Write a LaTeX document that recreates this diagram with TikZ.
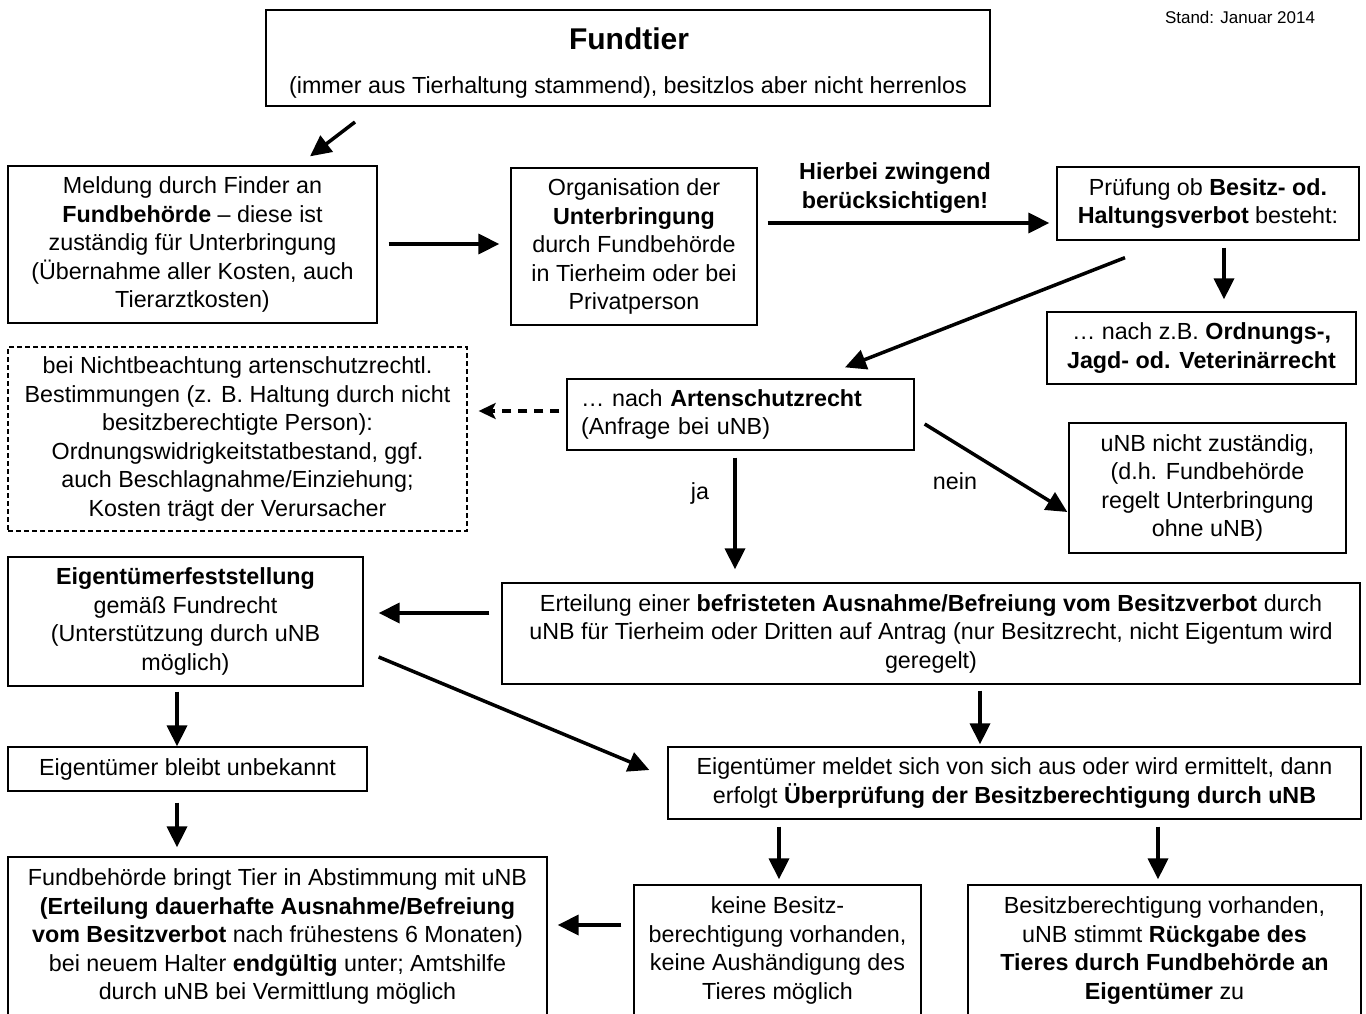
\documentclass[tikz,border=0pt]{standalone}
\usepackage{fontspec}
\setmainfont{Liberation Sans}
\usetikzlibrary{arrows.meta}
\newcommand\fsz{\fontsize{23.3}{28.5}\selectfont}
\begin{document}
\begin{tikzpicture}[x=1pt,y=-1pt,
  box/.style={draw, line width=1.3pt, align=center, inner sep=0pt, font=\fsz},
  dbox/.style={box, dash pattern=on 5pt off 3pt},
  txt/.style={align=center, inner sep=0pt, font=\fsz},
  arr/.style={line width=3.5pt, -{Triangle[length=21pt,width=20pt]}},
  darr/.style={line width=3.5pt, -{Stealth[length=17pt,width=16pt,inset=4pt]}, dash pattern=on 9pt off 7pt},
]
\useasboundingbox (0,0) rectangle (1366,1014);
\clip (0,0) rectangle (1366,1014);
\fill[white] (0,0) rectangle (1366,1014);

% top
\node[box, minimum width=724pt, minimum height=96pt] (fund) at (628,58) {};
\node[txt, font=\fontsize{30}{36}\selectfont\bfseries] (fundT) at (629,39) {Fundtier};
\node[txt] (fundS) at (628,87) {(immer aus Tierhaltung stammend), besitzlos aber nicht herrenlos};
\node[txt, font=\fontsize{17}{20}\selectfont] (stand) at (1240,17) {Stand: Januar 2014};

\node[box, minimum width=369pt, minimum height=157pt] (meld) at (192.5,244.5)
 {Meldung durch Finder an\\\textbf{Fundbehörde} – diese ist\\zuständig für Unterbringung\\(Übernahme aller Kosten, auch\\Tierarztkosten)};
\node[box, minimum width=246pt, minimum height=157pt] (org) at (634,246.5)
 {Organisation der\\\textbf{Unterbringung}\\durch Fundbehörde\\in Tierheim oder bei\\Privatperson};
\node[txt, font=\fsz\bfseries] (hier) at (895,188) {Hierbei zwingend\\berücksichtigen!};
\node[box, minimum width=302pt, minimum height=73pt] (pruef) at (1208,203.5)
 {Prüfung ob \textbf{Besitz- od.}\\\textbf{Haltungsverbot} besteht:};
\node[box, minimum width=309pt, minimum height=72pt] (nachz) at (1201.5,348)
 {… nach z.B. \textbf{Ordnungs-,}\\\textbf{Jagd- od. Veterinärrecht}};
\node[box, align=left, text width=319pt, minimum width=347pt, minimum height=71pt] (arten) at (740.5,414.5)
 {… nach \textbf{Artenschutzrecht}\\(Anfrage bei uNB)};
\node[dbox, minimum width=459pt, minimum height=184pt] (dash) at (237.5,439)
 {bei Nichtbeachtung artenschutzrechtl.\\Bestimmungen (z. B. Haltung durch nicht\\besitzberechtigte Person):\\Ordnungswidrigkeitstatbestand, ggf.\\auch Beschlagnahme/Einziehung;\\Kosten trägt der Verursacher};
\node[box, minimum width=277pt, minimum height=130pt] (unb) at (1207.5,488)
 {uNB nicht zuständig,\\(d.h. Fundbehörde\\regelt Unterbringung\\ohne uNB)};
\node[txt] (ja) at (700,493) {ja};
\node[txt] (nein) at (955,481) {nein};
\node[box, minimum width=858pt, minimum height=101pt] (ert) at (931,633.5)
 {Erteilung einer \textbf{befristeten Ausnahme/Befreiung vom Besitzverbot} durch\\uNB für Tierheim oder Dritten auf Antrag (nur Besitzrecht, nicht Eigentum wird\\geregelt)};
\node[box, minimum width=355pt, minimum height=129pt] (eigf) at (185.5,621.5)
 {\textbf{Eigentümerfeststellung}\\gemäß Fundrecht\\(Unterstützung durch uNB\\möglich)};
\node[box, minimum width=359pt, minimum height=44pt] (unbek) at (187.5,769)
 {Eigentümer bleibt unbekannt};
\node[box, minimum width=693pt, minimum height=72pt] (meldet) at (1014.5,783)
 {Eigentümer meldet sich von sich aus oder wird ermittelt, dann\\erfolgt \textbf{Überprüfung der Besitzberechtigung durch uNB}};
\node[box, minimum width=539pt, minimum height=159pt] (fbr) at (277.5,936.5)
 {Fundbehörde bringt Tier in Abstimmung mit uNB\\\textbf{(Erteilung dauerhafte Ausnahme/Befreiung}\\\textbf{vom Besitzverbot} nach frühestens 6 Monaten)\\bei neuem Halter \textbf{endgültig} unter; Amtshilfe\\durch uNB bei Vermittlung möglich};
\node[box, minimum width=287pt, minimum height=131pt] (keine) at (777.5,950.5)
 {keine Besitz-\\berechtigung vorhanden,\\keine Aushändigung des\\Tieres möglich};
\node[box, minimum width=393pt, minimum height=131pt] (besitz) at (1164.5,950.5)
 {Besitzberechtigung vorhanden,\\uNB stimmt \textbf{Rückgabe des}\\\textbf{Tieres durch Fundbehörde an}\\\textbf{Eigentümer} zu};

% connectors
\coordinate (s0) at (355,122);
\draw[arr] (s0) -- ([xshift=117.5pt,yshift=9pt]meld.north);
\draw[arr, shorten <=11pt, shorten >=11pt] ([yshift=0.5pt]meld.east) -- ([yshift=2.5pt]org.west);
\draw[arr, shorten <=10pt, shorten >=7pt] ([yshift=23.5pt]org.east) -- ([yshift=-19.5pt]pruef.west);
\draw[arr, shorten <=7pt, shorten >=12pt] ([xshift=16pt]pruef.south) -- ([xshift=22.5pt]nachz.north);
\draw[arr] ([xshift=-83pt,yshift=-17pt]pruef.south) -- ([xshift=104.5pt,yshift=11pt]arten.north);
\draw[darr, shorten <=7pt, shorten >=11pt] ([yshift=3.5pt]arten.west) -- ([yshift=28pt]dash.east);
\draw[arr, shorten <=7pt, shorten >=13pt] ([xshift=-5.5pt]arten.south) -- ([xshift=-196pt]ert.north);
\draw[arr] ([xshift=10pt,yshift=-9.5pt]arten.east) -- ([xshift=-1pt,yshift=-24pt]unb.west);
\draw[arr, shorten <=12pt, shorten >=15pt] ([yshift=20.5pt]ert.west) -- ([yshift=8.5pt]eigf.east);
\draw[arr, shorten <=5pt] ([xshift=-8.5pt]eigf.south) -- ([xshift=-10.5pt]unbek.north);
\draw[arr] ([xshift=15pt,yshift=-35.5pt]eigf.east) -- ([xshift=-18pt,yshift=13pt]meldet.west);
\draw[arr, shorten <=6pt, shorten >=2pt] ([xshift=49pt]ert.south) -- ([xshift=-34.5pt]meldet.north);
\draw[arr, shorten <=11pt, shorten >=9pt] ([xshift=-10.5pt]unbek.south) -- ([xshift=-100.5pt]fbr.north);
\draw[arr, shorten <=7pt, shorten >=5pt] ([xshift=-235.5pt]meldet.south) -- ([xshift=1.5pt]keine.north);
\draw[arr, shorten <=7pt, shorten >=5pt] ([xshift=143.5pt]meldet.south) -- ([xshift=-6.5pt]besitz.north);
\draw[arr, shorten <=12pt, shorten >=10pt] ([yshift=25.5pt]keine.west) -- ([yshift=11.5pt]fbr.east);
\end{tikzpicture}
\end{document}
